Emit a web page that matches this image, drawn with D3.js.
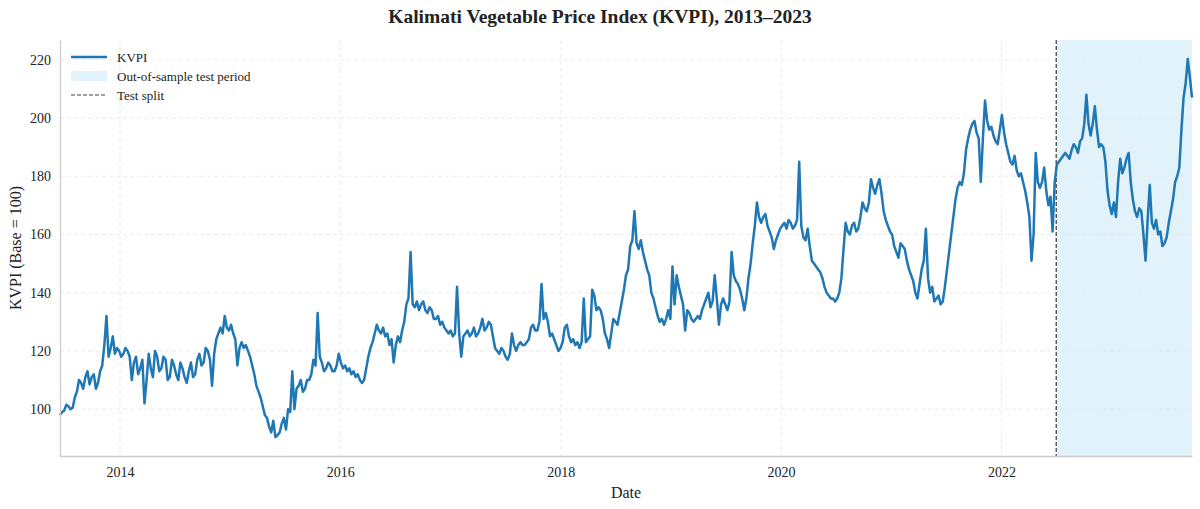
<!DOCTYPE html>
<html>
<head>
<meta charset="utf-8">
<script src="https://cdn.jsdelivr.net/npm/d3@7"></script>
<style>
  body { margin: 0; background: #fff; }
  svg { font-family: "Liberation Serif", "Times New Roman", serif; }
</style>
</head>
<body>
<svg width="1200" height="509"></svg>
<script>
// series: KVPI sampled weekly from the first date
var startDate = "2013-06-16"
var stepDays = 7
var kvpi = [
  98, 99, 99.5, 101.5, 101, 100, 100.5, 104, 106, 110, 109, 107, 111, 113, 108.5, 111, 112, 107, 109, 113,
  115, 122, 132, 118, 121, 125, 119, 121, 120, 118, 119, 121, 120, 118, 110, 116, 118, 112, 114, 117,
  102, 110, 119, 114, 111, 120, 118, 113, 114, 118, 117, 110, 111, 117, 115, 112, 110, 116, 114, 111,
  109, 113, 116, 111, 112, 117, 119, 115, 116, 121, 120, 117, 108, 119, 124, 126, 128, 126, 132, 128,
  127, 129, 126, 124, 115, 121, 123, 121, 122, 120, 118, 115, 112, 108, 106, 104, 101, 98, 97, 94,
  92, 96, 90.4, 91, 92, 95, 97, 93, 100, 99, 113, 100, 107, 108, 110, 106, 107, 110, 110, 112,
  117, 115, 133, 118, 116, 113, 114, 116, 115, 113, 113, 115, 119, 116, 114, 115, 113, 114, 112, 113,
  111, 112, 110, 109, 110, 114, 118, 121, 123, 126, 129, 127, 126, 128, 125, 126, 122, 124, 116, 122,
  125, 123, 127, 130, 136, 138, 154, 136, 135, 137, 134, 136, 137, 134, 133, 135, 134, 131, 131, 132,
  129, 130, 128, 127, 126, 127, 125, 126, 142, 126, 118, 125, 126, 127, 125, 126, 128, 125, 126, 128,
  131, 127, 128, 130, 129, 125, 121, 120, 119, 121, 120, 118, 117, 119, 126, 122, 120, 122, 123, 122,
  122, 123, 124, 128, 129, 127, 127, 130, 143, 131, 133, 130, 125, 126, 124, 122, 120, 121, 123, 128,
  129, 125, 123, 124, 122, 123, 121, 123, 138, 123, 124, 125, 141, 139, 134, 135, 134, 131, 126, 124,
  121, 126, 131, 130, 129, 133, 137, 141, 146, 148, 156, 158, 168, 157, 155, 158, 154, 151, 148, 146,
  140, 138, 135, 132, 130, 131, 129, 131, 134, 131, 149, 136, 146, 142, 139, 136, 127, 134, 133, 131,
  130, 131, 132, 131, 134, 136, 138, 140, 135, 137, 146, 138, 129, 136, 138, 136, 134, 137, 154, 146,
  144, 143, 141, 138, 134, 138, 145, 150, 157, 163, 171, 166, 164, 166, 167, 163, 161, 159, 155, 158,
  160, 162, 163, 164, 162, 165, 164, 162, 163, 165, 185, 163, 159, 158, 162, 156, 151, 150, 149, 148,
  147, 145, 142, 140, 139, 138, 138, 137, 138, 140, 145, 155, 164, 161, 160, 163, 164, 161, 162, 166,
  171, 169, 168, 171, 179, 176, 174, 177, 179, 174, 168, 165, 163, 161, 160, 156, 154, 152, 157, 156,
  155, 151, 148, 146, 144, 140, 138, 143, 148, 151, 162, 145, 140, 142, 137, 138, 139, 136, 137, 142,
  148, 154, 160, 166, 172, 176, 178, 177, 181, 189, 193, 196, 198, 199, 195, 193, 178, 193, 206, 199,
  196, 197, 194, 192, 191, 196, 201, 195, 191, 188, 185, 184, 187, 182, 180, 181, 178, 175, 171, 166,
  151, 160, 188, 178, 176, 178, 183, 175, 170, 173, 161, 178, 184, 185, 186, 187, 188, 187, 186, 189,
  191, 190, 188, 192, 193, 198, 208, 198, 194, 198, 204, 196, 190, 191, 190, 185, 175, 170, 167, 171,
  166, 178, 186, 181, 183, 186, 188, 178, 172, 168, 166, 169, 168, 160, 151, 165, 177, 164, 162, 165,
  160, 161, 156, 157, 159, 164, 168, 172, 178, 180, 183, 196, 207, 212, 220.3, 214, 207
]
var splitDate = "2022-07-01"
var yTicks = [100, 120, 140, 160, 180, 200, 220]
var xTickYears = [2014, 2016, 2018, 2020, 2022]
var legendItems = ["KVPI", "Out-of-sample test period", "Test split"]

var parse = d3.timeParse("%Y-%m-%d")
var t0 = parse(startDate)
var data = kvpi.map(function(v, i) {
    return { date: d3.timeDay.offset(t0, i*stepDays), value: v }
})

var svg = d3.select("svg")
var margin = { top: 40, right: 8, bottom: 53, left: 60 }
var W = 1200 - margin.left - margin.right
var H = 509 - margin.top - margin.bottom
var g = svg.append("g").attr("transform", "translate("+margin.left+","+margin.top+")")

var x = d3.scaleTime().domain(d3.extent(data, function(d) { return d.date })).range([0, W])
var ext = d3.extent(kvpi)
var pad = (ext[1]-ext[0])*0.05
var y = d3.scaleLinear().domain([ext[0]-pad, ext[1]+pad]).range([H, 0])

// test period shading
var xs = x(parse(splitDate))
g.append("rect")
    .attr("x", xs).attr("y", 0)
    .attr("width", W - xs).attr("height", H)
    .attr("fill", "#e2f2fa")

// grid
var xTicks = xTickYears.map(function(yr) { return new Date(yr, 0, 1) })
g.append("g").selectAll("line").data(yTicks).enter().append("line")
    .attr("x1", 0).attr("x2", W)
    .attr("y1", function(d) { return y(d) }).attr("y2", function(d) { return y(d) })
    .attr("stroke", "#e6e6e6").attr("stroke-width", 0.8).attr("stroke-dasharray", "4,3")
g.append("g").selectAll("line").data(xTicks).enter().append("line")
    .attr("y1", 0).attr("y2", H)
    .attr("x1", function(d) { return x(d) }).attr("x2", function(d) { return x(d) })
    .attr("stroke", "#e6e6e6").attr("stroke-width", 0.8).attr("stroke-dasharray", "4,3")

// split line
g.append("line")
    .attr("x1", xs).attr("x2", xs).attr("y1", 0).attr("y2", H)
    .attr("stroke", "#555").attr("stroke-width", 1.4).attr("stroke-dasharray", "4,2")

// series
var line = d3.line()
    .x(function(d) { return x(d.date) })
    .y(function(d) { return y(d.value) })
g.append("path").datum(data)
    .attr("d", line)
    .attr("fill", "none")
    .attr("stroke", "#1f77b4")
    .attr("stroke-width", 2.5)
    .attr("stroke-linejoin", "round")

// axes
var xAxis = g.append("g").attr("transform", "translate(0,"+H+")")
    .call(d3.axisBottom(x).tickValues(xTicks).tickFormat(d3.timeFormat("%Y")).tickSize(0).tickPadding(11))
var yAxis = g.append("g")
    .call(d3.axisLeft(y).tickValues(yTicks).tickSize(0).tickPadding(9))
;[xAxis, yAxis].forEach(function(a) {
    a.select(".domain").attr("stroke", "#cccccc").attr("stroke-width", 1.3)
    a.selectAll("text").attr("font-size", 14).attr("fill", "#222")
        .attr("font-family", "Liberation Serif, serif")
})

// labels
svg.append("text")
    .attr("x", 600).attr("y", 23)
    .attr("text-anchor", "middle")
    .attr("font-size", 19.5).attr("font-weight", "bold").attr("fill", "#222")
    .text("Kalimati Vegetable Price Index (KVPI), 2013–2023")
svg.append("text")
    .attr("x", margin.left + W/2).attr("y", 498)
    .attr("text-anchor", "middle")
    .attr("font-size", 16).attr("fill", "#222")
    .text("Date")
svg.append("text")
    .attr("transform", "translate(21,"+(margin.top + H/2)+") rotate(-90)")
    .attr("text-anchor", "middle")
    .attr("font-size", 16).attr("fill", "#222")
    .text("KVPI (Base = 100)")

// legend
var lg = g.append("g").attr("transform", "translate(11,17)")
lg.append("line").attr("x1", 0).attr("x2", 36).attr("y1", 0).attr("y2", 0)
    .attr("stroke", "#1f77b4").attr("stroke-width", 2.5)
lg.append("rect").attr("x", 0).attr("y", 14).attr("width", 36).attr("height", 10)
    .attr("fill", "#e2f2fa")
lg.append("line").attr("x1", 0).attr("x2", 36).attr("y1", 38).attr("y2", 38)
    .attr("stroke", "#444").attr("stroke-width", 1.2).attr("stroke-dasharray", "4,2")
lg.selectAll("text").data(legendItems).enter().append("text")
    .attr("x", 46).attr("y", function(d, i) { return i*19 + 4.5 })
    .attr("font-size", 13).attr("fill", "#222")
    .text(function(d) { return d })
</script>
</body>
</html>
